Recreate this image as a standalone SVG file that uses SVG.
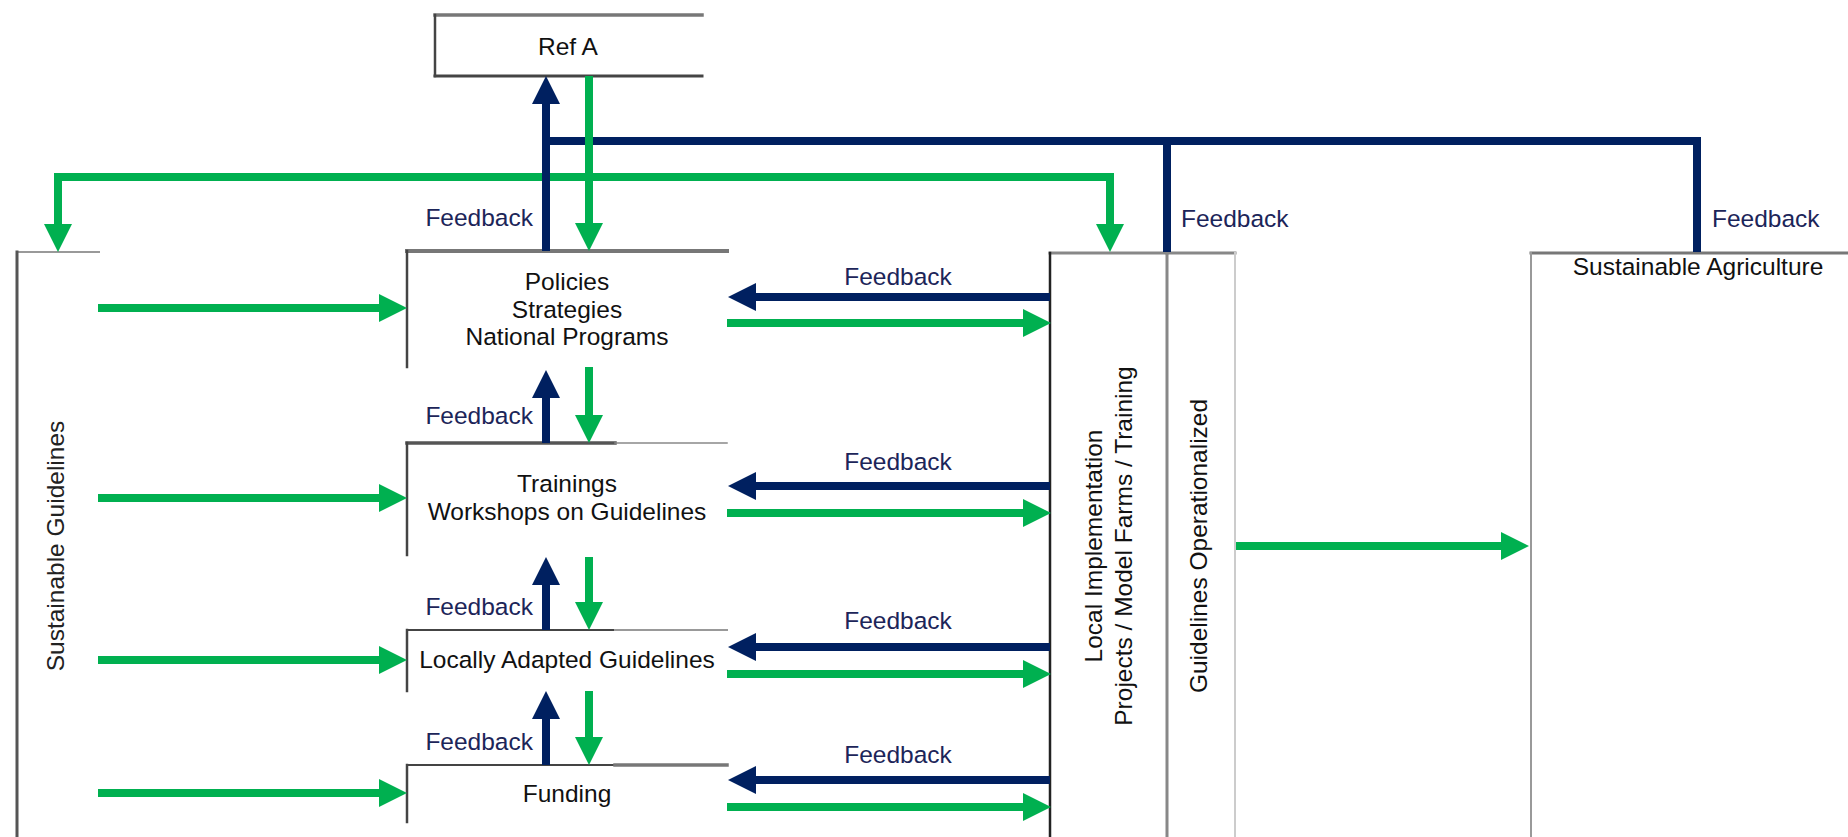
<svg xmlns="http://www.w3.org/2000/svg" width="1848" height="837" viewBox="0 0 1848 837">
  <defs>
    <style>
      .t { font-family: "Liberation Sans", Arial, sans-serif; font-size: 24.5px; fill: #111; }
      .c { text-anchor: middle; }
      .fb { font-family: "Liberation Sans", Arial, sans-serif; font-size: 24.5px; fill: #1c2559; }
      .edge { fill: none; stroke-linecap: butt; stroke-linejoin: miter; }
      .blue { stroke: #002060; stroke-width: 8; }
      .green { stroke: #00b050; stroke-width: 8; }
      .ln { fill: none; stroke-linecap: square; }
      .dark { stroke: #444; stroke-width: 2.5; }
      .grey { stroke: #777; stroke-width: 3.5; }
      .lite { stroke: #999; stroke-width: 2; }
    </style>
    <marker id="ahG" markerUnits="userSpaceOnUse" markerWidth="28" markerHeight="28" refX="6" refY="14" orient="auto">
      <path d="M0,0 L28,14 L0,28 Z" fill="#00b050"/>
    </marker>
    <marker id="ahB" markerUnits="userSpaceOnUse" markerWidth="28" markerHeight="28" refX="6" refY="14" orient="auto">
      <path d="M0,0 L28,14 L0,28 Z" fill="#002060"/>
    </marker>
  </defs>
  <rect width="1848" height="837" fill="#fff"/>

  <g id="node-refA">
    <line class="ln grey" x1="435" y1="15" x2="702" y2="15"/>
    <line class="ln dark" x1="435" y1="15" x2="435" y2="76"/>
    <line class="ln dark" x1="435" y1="76" x2="702" y2="76" style="stroke-width:3"/>
    <text class="t c" x="568" y="55">Ref A</text>
  </g>

  <g id="node-sustainable-guidelines">
    <line class="ln lite" x1="17" y1="252" x2="99" y2="252"/>
    <line class="ln dark" x1="17" y1="252" x2="17" y2="840" style="stroke:#555;stroke-width:3"/>
    <text class="t c" transform="translate(64,546) rotate(-90)" x="0" y="0" style="fill:#222">Sustainable Guidelines</text>
  </g>

  <g id="node-policies">
    <line class="ln grey" x1="407" y1="251" x2="727" y2="251" style="stroke-width:4"/>
    <line class="ln dark" x1="407" y1="251" x2="407" y2="367"/>
    <text class="t c" x="567" y="290">Policies</text>
    <text class="t c" x="567" y="318">Strategies</text>
    <text class="t c" x="567" y="345">National Programs</text>
  </g>

  <g id="node-trainings">
    <line class="ln" x1="407" y1="443" x2="615" y2="443" style="stroke:#555;stroke-width:3.5"/>
    <line class="ln" x1="615" y1="443" x2="727" y2="443" style="stroke:#888;stroke-width:1.5"/>
    <line class="ln dark" x1="407" y1="443" x2="407" y2="555"/>
    <text class="t c" x="567" y="492">Trainings</text>
    <text class="t c" x="567" y="520">Workshops on Guidelines</text>
  </g>

  <g id="node-locally-adapted">
    <line class="ln" x1="407" y1="630" x2="615" y2="630" style="stroke:#444;stroke-width:2"/>
    <line class="ln lite" x1="615" y1="630" x2="727" y2="630"/>
    <line class="ln dark" x1="407" y1="630" x2="407" y2="691"/>
    <text class="t c" x="567" y="668">Locally Adapted Guidelines</text>
  </g>

  <g id="node-funding">
    <line class="ln" x1="407" y1="765" x2="615" y2="765" style="stroke:#444;stroke-width:2"/>
    <line class="ln grey" x1="615" y1="765" x2="727" y2="765"/>
    <line class="ln dark" x1="407" y1="765" x2="407" y2="822"/>
    <text class="t c" x="567" y="802">Funding</text>
  </g>

  <g id="node-local-implementation">
    <line class="ln" x1="1050" y1="253" x2="1167" y2="253" style="stroke:#888;stroke-width:3"/>
    <line class="ln" x1="1050" y1="253" x2="1050" y2="840" style="stroke:#222;stroke-width:2.5"/>
    <line class="ln" x1="1167" y1="253" x2="1167" y2="840" style="stroke:#888;stroke-width:3"/>
    <text class="t c" transform="translate(1102,546) rotate(-90)">Local Implementation</text>
    <text class="t c" transform="translate(1132,546) rotate(-90)">Projects / Model Farms / Training</text>
  </g>

  <g id="node-guidelines-operationalized">
    <line class="ln" x1="1167" y1="253" x2="1235" y2="253" style="stroke:#888;stroke-width:3"/>
    <line class="ln" x1="1235" y1="253" x2="1235" y2="840" style="stroke:#ccc;stroke-width:2"/>
    <text class="t c" transform="translate(1207,546) rotate(-90)">Guidelines Operationalized</text>
  </g>

  <g id="node-sustainable-agriculture">
    <line class="ln" x1="1531" y1="253" x2="1848" y2="253" style="stroke:#777;stroke-width:3"/>
    <line class="ln lite" x1="1531" y1="253" x2="1531" y2="840"/>
    <text class="t c" x="1698" y="275">Sustainable Agriculture</text>
  </g>

  <g id="connectors">
    <!-- top feedback bus -->
    <path class="edge blue" d="M546,141 H1697 V252"/>
    <path class="edge blue" d="M1167,141 V252"/>
    <!-- top green distribution -->
    <path class="edge green" d="M589,177 H58 V230" marker-end="url(#ahG)"/>
    <path class="edge green" d="M585,177 H1110 V230" marker-end="url(#ahG)"/>
    <path class="edge green" d="M589,76 V229" marker-end="url(#ahG)"/>
    <path class="edge blue" d="M546,251 V98" marker-end="url(#ahB)"/>

    <!-- from Sustainable Guidelines -->
    <path class="edge green" d="M98,308 H385" marker-end="url(#ahG)"/>
    <path class="edge green" d="M98,498 H385" marker-end="url(#ahG)"/>
    <path class="edge green" d="M98,660 H385" marker-end="url(#ahG)"/>
    <path class="edge green" d="M98,793 H385" marker-end="url(#ahG)"/>

    <!-- between stacked boxes -->
    <path class="edge blue" d="M546,443 V392" marker-end="url(#ahB)"/>
    <path class="edge green" d="M589,367 V421" marker-end="url(#ahG)"/>
    <path class="edge blue" d="M546,630 V579" marker-end="url(#ahB)"/>
    <path class="edge green" d="M589,557 V608" marker-end="url(#ahG)"/>
    <path class="edge blue" d="M546,765 V713" marker-end="url(#ahB)"/>
    <path class="edge green" d="M589,691 V743" marker-end="url(#ahG)"/>

    <!-- to/from Local Implementation -->
    <path class="edge blue" d="M1050,297 H750" marker-end="url(#ahB)"/>
    <path class="edge green" d="M727,323 H1029" marker-end="url(#ahG)"/>
    <path class="edge blue" d="M1050,486 H750" marker-end="url(#ahB)"/>
    <path class="edge green" d="M727,513 H1029" marker-end="url(#ahG)"/>
    <path class="edge blue" d="M1050,647 H750" marker-end="url(#ahB)"/>
    <path class="edge green" d="M727,674 H1029" marker-end="url(#ahG)"/>
    <path class="edge blue" d="M1050,780 H750" marker-end="url(#ahB)"/>
    <path class="edge green" d="M727,807 H1029" marker-end="url(#ahG)"/>

    <!-- to Sustainable Agriculture -->
    <path class="edge green" d="M1236,546 H1507" marker-end="url(#ahG)"/>

    <!-- labels -->
    <text class="fb" x="533" y="226" text-anchor="end">Feedback</text>
    <text class="fb" x="533" y="424" text-anchor="end">Feedback</text>
    <text class="fb" x="533" y="615" text-anchor="end">Feedback</text>
    <text class="fb" x="533" y="750" text-anchor="end">Feedback</text>
    <text class="fb" x="898" y="285" text-anchor="middle">Feedback</text>
    <text class="fb" x="898" y="470" text-anchor="middle">Feedback</text>
    <text class="fb" x="898" y="629" text-anchor="middle">Feedback</text>
    <text class="fb" x="898" y="763" text-anchor="middle">Feedback</text>
    <text class="fb" x="1181" y="227">Feedback</text>
    <text class="fb" x="1712" y="227">Feedback</text>
  </g>
</svg>
